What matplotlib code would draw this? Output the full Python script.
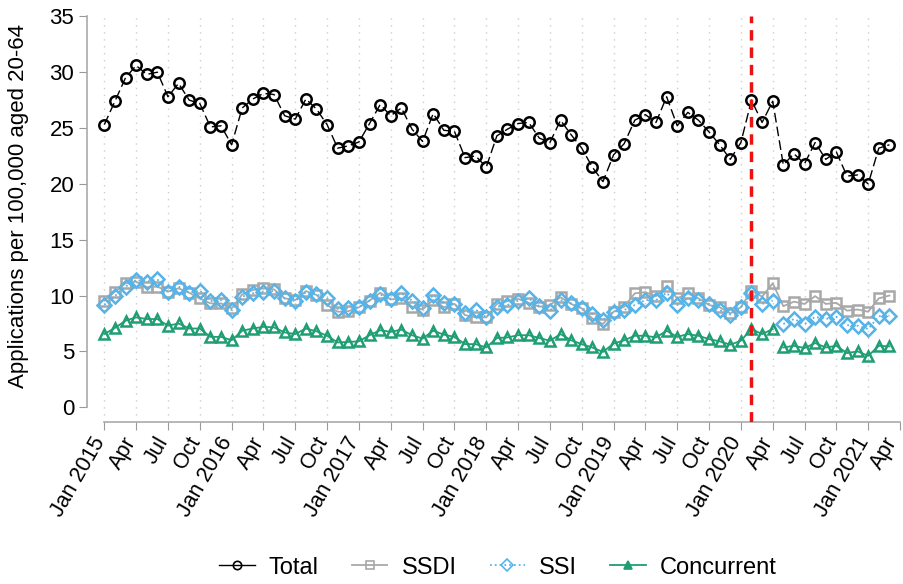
import matplotlib
matplotlib.use('Agg')
from matplotlib import pyplot as plt
from matplotlib.lines import Line2D
from matplotlib.transforms import ScaledTranslation

plt.rcParams['font.family'] = ['Liberation Sans', 'DejaVu Sans']

# monthly values, Jan 2015 - Mar 2021
total = [25.3, 27.4, 29.5, 30.6, 29.8, 30.0, 27.8, 29.0, 27.5, 27.2, 25.1, 25.2,
         23.5, 26.8, 27.6, 28.1, 28.0, 26.1, 25.8, 27.6, 26.7, 25.3, 23.2, 23.4,
         23.75, 25.4, 27.1, 26.1, 26.8, 24.9, 23.8, 26.3, 24.8, 24.7, 22.35, 22.5,
         21.5, 24.3, 24.9, 25.4, 25.5, 24.1, 23.7, 25.7, 24.4, 23.2, 21.5, 20.2,
         22.6, 23.6, 25.7, 26.2, 25.5, 27.8, 25.2, 26.4, 25.7, 24.65, 23.5, 22.2,
         23.7, 27.5, 25.5, 27.4, 21.7, 22.7, 21.8, 23.7, 22.2, 22.85, 20.7, 20.8,
         20.0, 23.2, 23.5]
ssdi = [9.55, 10.35, 11.1, 11.25, 10.75, 10.8, 10.35, 10.65, 10.25, 9.75, 9.3, 9.3,
        8.85, 10.1, 10.5, 10.65, 10.55, 9.75, 9.6, 10.4, 10.05, 9.15, 8.55, 8.6,
        8.95, 9.55, 10.25, 9.65, 9.75, 9.0, 8.75, 9.6, 8.95, 9.25, 8.25, 8.05,
        8.05, 9.25, 9.5, 9.7, 9.35, 9.0, 9.15, 9.85, 9.25, 8.85, 7.95, 7.45,
        8.55, 9.0, 10.2, 10.3, 9.95, 10.85, 9.75, 10.2, 9.75, 9.15, 8.95, 8.4,
        8.95, 10.45, 9.9, 11.1, 9.05, 9.45, 9.25, 9.95, 9.25, 9.35, 8.65, 8.75,
        8.55, 9.75, 10.0]
ssi = [9.16, 9.96, 10.8, 11.4, 11.25, 11.45, 10.3, 10.8, 10.25, 10.45, 9.5, 9.6,
       8.7, 9.9, 10.2, 10.35, 10.4, 9.75, 9.5, 10.3, 10.1, 9.75, 8.8, 8.9,
       8.95, 9.55, 10.1, 9.7, 10.2, 9.55, 8.9, 10.05, 9.35, 9.25, 8.45, 8.75,
       8.05, 9.0, 9.15, 9.55, 9.75, 9.05, 8.65, 9.6, 9.3, 8.9, 8.35, 7.8,
       8.55, 8.7, 9.15, 9.6, 9.6, 10.25, 9.15, 9.75, 9.6, 9.25, 8.7, 8.3,
       8.95, 10.25, 9.25, 9.55, 7.45, 7.9, 7.45, 8.1, 7.9, 8.1, 7.35, 7.3,
       7.0, 8.15, 8.2]
concurrent = [6.55, 7.1, 7.75, 8.05, 7.9, 7.9, 7.3, 7.5, 7.05, 7.05, 6.3, 6.3,
              6.0, 6.85, 7.05, 7.2, 7.15, 6.7, 6.55, 7.05, 6.8, 6.4, 5.8, 5.85,
              5.9, 6.45, 6.9, 6.75, 6.95, 6.45, 6.15, 6.85, 6.5, 6.3, 5.65, 5.65,
              5.35, 6.2, 6.25, 6.45, 6.45, 6.2, 5.95, 6.55, 6.0, 5.65, 5.35, 4.95,
              5.7, 6.0, 6.4, 6.4, 6.25, 6.85, 6.3, 6.55, 6.4, 6.1, 5.9, 5.6,
              5.95, 7.0, 6.55, 7.0, 5.35, 5.5, 5.3, 5.75, 5.35, 5.5, 4.85, 5.0,
              4.6, 5.5, 5.45]

years = [2015, 2016, 2017, 2018, 2019, 2020, 2021]
tick_labels = []
for yr in years:
    tick_labels += ['Jan %d' % yr, 'Apr', 'Jul', 'Oct']
tick_labels = tick_labels[:26]   # ends at Apr 2021
break_month = 61                 # red dashed line
post_start = 64                  # series split here

months = list(range(len(total)))

fig = plt.figure(figsize=(9.04, 5.84), dpi=100)
ax = fig.add_axes([0.0966, 0.278, 0.899, 0.694])

ax.plot(months, total, color='black', lw=1, dashes=(7, 3), marker='o',
        ms=7.5, mfc='none', mec='black', mew=1.8, zorder=5)
ax.plot(months, ssdi, color='#a8a8a8', lw=1.3, marker='s', ms=7.5,
        mfc='none', mec='#a8a8a8', mew=1.8, zorder=3)
ssi_color = '#56b4e9'
green = '#1f9e74'
for sl in (slice(0, post_start), slice(post_start, None)):
    ax.plot(months[sl], ssi[sl], color=ssi_color, lw=1.3, ls=':', marker='D',
            ms=7, mfc='none', mec=ssi_color, mew=1.8, zorder=4)
    ax.plot(months[sl], concurrent[sl], color=green, lw=1.3, marker='^',
            ms=7.5, mfc='none', mec=green, mew=1.8, zorder=4)

ax.axvline(break_month, color='#ee1111', lw=2.5, dashes=(3, 2), zorder=6)

ax.set_xlim(-1.6, 75)
ax.set_ylim(-1.29, 35)
ax.set_xticks(range(0, 76, 3))
ax.set_xticklabels(tick_labels, rotation=60, ha='right', va='center',
                   rotation_mode='anchor', fontsize=15.5)
ax.set_yticks(range(0, 36, 5))
ax.tick_params(axis='y', labelsize=16, color='#999999', length=6)
ax.tick_params(axis='x', color='#999999', length=6)
ax.set_ylabel('Applications per 100,000 aged 20-64', fontsize=16)
ax.yaxis.set_label_coords(-0.072, 0.532)

for s in ('top', 'right'):
    ax.spines[s].set_visible(False)
for s in ('left', 'bottom'):
    ax.spines[s].set_color('#aaaaaa')
    ax.spines[s].set_linewidth(1.2)
ax.spines['left'].set_bounds(0, 35)
ax.spines['bottom'].set_bounds(0, 75)

ax.grid(axis='x', color='#cccccc', ls=(0, (1, 4)), lw=1)
ax.set_axisbelow(True)

handles = [
    Line2D([], [], color='black', lw=1, marker='o', ms=6, mfc='none', mew=1.2),
    Line2D([], [], color='#a8a8a8', lw=1.3, marker='s', ms=6, mfc='none', mew=1.2),
    Line2D([], [], color=ssi_color, lw=1.3, ls=':', marker='D', ms=6, mfc='none', mew=1.2),
    Line2D([], [], color=green, lw=1.3, marker='^', ms=6, mfc=green, mew=1.2),
]
fig.legend(handles, ['Total', 'SSDI', 'SSI', 'Concurrent'], loc='center',
           bbox_to_anchor=(0.551, 0.028), ncol=4, frameon=False, fontsize=17,
           handlelength=1.5, columnspacing=1.4, handletextpad=0.6)

# nudge the rotated tick labels once the ticks exist
fig.canvas.draw()
labels = ax.xaxis.get_ticklabels()
for i, lab in enumerate(labels):
    dx = -7 if i == len(labels) - 1 else -4   # keep the last one inside
    shift = ScaledTranslation(dx / 100, -3.5 / 100, fig.dpi_scale_trans)
    lab.set_transform(lab.get_transform() + shift)

fig.savefig('out.png', dpi=100)
